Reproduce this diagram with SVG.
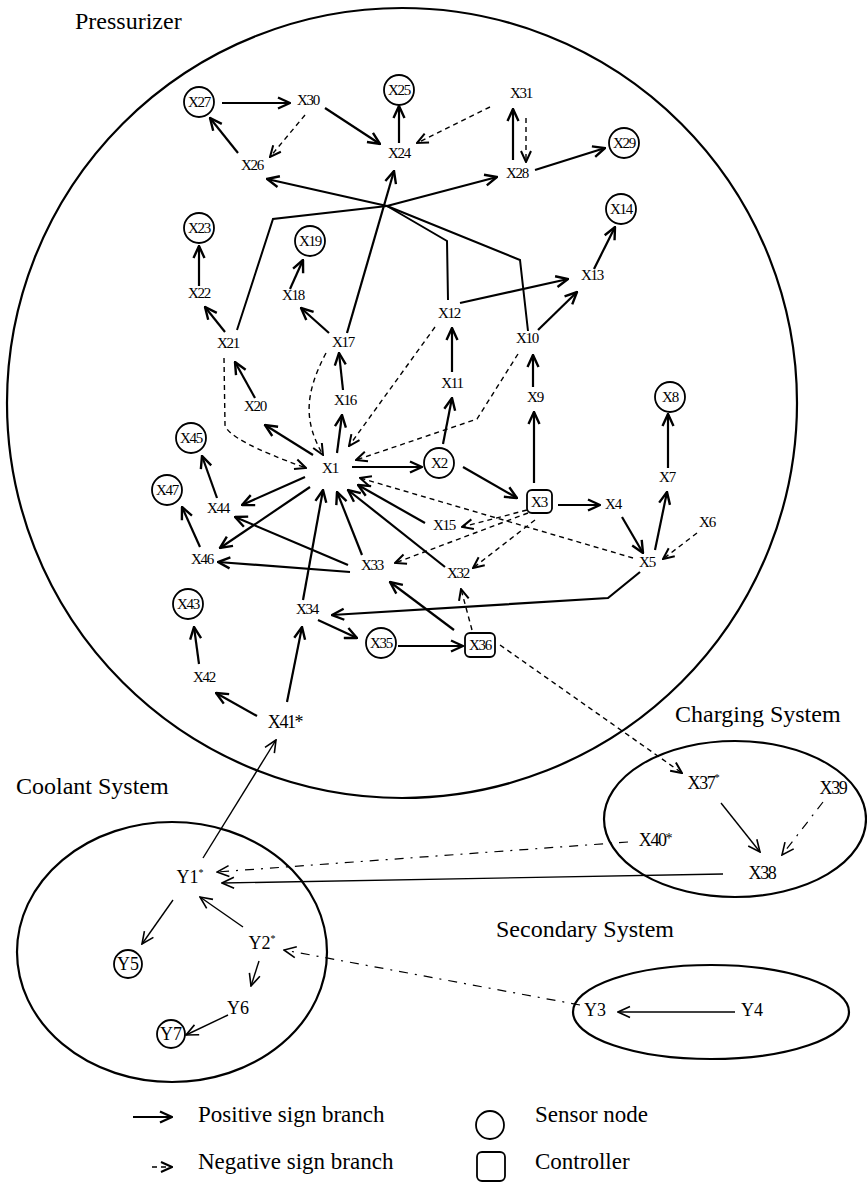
<svg xmlns="http://www.w3.org/2000/svg" width="867" height="1185" viewBox="0 0 867 1185">
<style>
  .bg { fill: #fff; }
  .region { fill: none; stroke: #000; stroke-width: 2.2; }
  .title { font-family: "Liberation Serif", "Times New Roman", serif; font-size: 24px; fill: #000; }
  .n { font-family: "Liberation Serif", "Times New Roman", serif; font-size: 15px; letter-spacing: -1.2px; text-anchor: middle; fill: #000; }
  .nb { font-family: "Liberation Serif", "Times New Roman", serif; font-size: 18px; letter-spacing: -1.4px; text-anchor: middle; fill: #000; }
  .y { font-family: "Liberation Serif", "Times New Roman", serif; font-size: 18px; text-anchor: middle; fill: #000; }
  .ring { fill: none; stroke: #000; stroke-width: 1.8; }
  .pos { fill: none; stroke: #000; stroke-width: 2.2; marker-end: url(#ah); }
  .neg { fill: none; stroke: #000; stroke-width: 1.4; stroke-dasharray: 5 4; marker-end: url(#ahd); }
  .thin { fill: none; stroke: #000; stroke-width: 1.4; marker-end: url(#aht); }
  .thinneg { fill: none; stroke: #000; stroke-width: 1.2; stroke-dasharray: 9 7 2 7; marker-end: url(#aht); }
  .bus { fill: none; stroke: #000; stroke-width: 2; }
  .legend { font-family: "Liberation Serif", "Times New Roman", serif; font-size: 23px; fill: #000; }
</style>
<defs>
  <marker id="ah" viewBox="0 0 14 14" refX="13" refY="7" markerWidth="14" markerHeight="14" markerUnits="userSpaceOnUse" orient="auto">
    <path d="M1,1.5 L13,7 L1,12.5" fill="none" stroke="#000" stroke-width="2.4"/>
  </marker>
  <marker id="ahd" viewBox="0 0 14 14" refX="13" refY="7" markerWidth="14" markerHeight="14" markerUnits="userSpaceOnUse" orient="auto">
    <path d="M2,2 L13,7 L2,12" fill="none" stroke="#000" stroke-width="2"/>
  </marker>
  <marker id="aht" viewBox="0 0 14 14" refX="13" refY="7" markerWidth="14" markerHeight="14" markerUnits="userSpaceOnUse" orient="auto">
    <path d="M1,1.5 L13,7 L1,12.5" fill="none" stroke="#000" stroke-width="1.6"/>
  </marker>
</defs>
<rect class="bg" x="0" y="0" width="867" height="1185"/>

<!-- subsystem boundaries -->
<g id="regions">
  <circle class="region" cx="402" cy="403" r="395"/>
  <ellipse class="region" cx="172" cy="952" rx="155" ry="130"/>
  <ellipse class="region" cx="735" cy="819" rx="131" ry="78"/>
  <ellipse class="region" cx="711" cy="1012" rx="138" ry="47"/>
  <text class="title" x="75" y="29">Pressurizer</text>
  <text class="title" x="16" y="794">Coolant System</text>
  <text class="title" x="675" y="722">Charging System</text>
  <text class="title" x="496" y="937">Secondary System</text>
</g>

<!-- signed branches -->
<g id="connectors">
  <!-- positive branches -->
  <line class="pos" x1="222" y1="103" x2="290" y2="103"/>
  <line class="pos" x1="325" y1="108" x2="380" y2="144"/>
  <line class="pos" x1="399" y1="143" x2="399" y2="106"/>
  <line class="pos" x1="238" y1="153" x2="210" y2="118"/>
  <line class="pos" x1="513" y1="160" x2="513" y2="109"/>
  <line class="pos" x1="535" y1="170" x2="605" y2="148"/>
  <polyline class="bus" points="237,330 273,219 387,206"/>
  <polyline class="bus" points="448,300 447,241 387,206"/>
  <polyline class="bus" points="528,331 520,260 387,206"/>
  <line class="pos" x1="387" y1="206" x2="267" y2="179"/>
  <line class="pos" x1="387" y1="206" x2="497" y2="177"/>
  <line class="pos" x1="347" y1="333" x2="394" y2="171"/>
  <line class="pos" x1="329" y1="333" x2="301" y2="308"/>
  <line class="pos" x1="290" y1="289" x2="303" y2="260"/>
  <line class="pos" x1="225" y1="332" x2="205" y2="307"/>
  <line class="pos" x1="199" y1="286" x2="199" y2="246"/>
  <line class="pos" x1="343" y1="390" x2="339" y2="353"/>
  <line class="pos" x1="255" y1="398" x2="235" y2="362"/>
  <line class="pos" x1="452" y1="372" x2="452" y2="328"/>
  <line class="pos" x1="460" y1="303" x2="568" y2="279"/>
  <line class="pos" x1="538" y1="330" x2="577" y2="292"/>
  <line class="pos" x1="594" y1="269" x2="615" y2="227"/>
  <line class="pos" x1="533" y1="387" x2="533" y2="355"/>
  <line class="pos" x1="534" y1="483" x2="534" y2="412"/>
  <line class="pos" x1="313" y1="455" x2="265" y2="425"/>
  <line class="pos" x1="337" y1="453" x2="342" y2="415"/>
  <line class="pos" x1="352" y1="467" x2="422" y2="467"/>
  <line class="pos" x1="443" y1="444" x2="452" y2="398"/>
  <line class="pos" x1="463" y1="467" x2="517" y2="498"/>
  <line class="pos" x1="558" y1="505" x2="600" y2="505"/>
  <line class="pos" x1="622" y1="517" x2="643" y2="553"/>
  <line class="pos" x1="655" y1="550" x2="667" y2="492"/>
  <line class="pos" x1="668" y1="468" x2="668" y2="414"/>
  <line class="pos" x1="305" y1="477" x2="242" y2="505"/>
  <line class="pos" x1="310" y1="487" x2="220" y2="548"/>
  <line class="pos" x1="217" y1="498" x2="202" y2="456"/>
  <line class="pos" x1="200" y1="547" x2="182" y2="507"/>
  <line class="pos" x1="350" y1="572" x2="218" y2="562"/>
  <line class="pos" x1="348" y1="565" x2="235" y2="517"/>
  <line class="pos" x1="362" y1="555" x2="337" y2="492"/>
  <line class="pos" x1="425" y1="523" x2="358" y2="485"/>
  <line class="pos" x1="445" y1="567" x2="348" y2="490"/>
  <line class="pos" x1="303" y1="600" x2="323" y2="490"/>
  <polyline class="pos" points="640,572 608,598 332,615"/>
  <line class="pos" x1="318" y1="620" x2="357" y2="638"/>
  <line class="pos" x1="398" y1="646" x2="463" y2="646"/>
  <line class="pos" x1="454" y1="630" x2="390" y2="582"/>
  <line class="pos" x1="287" y1="702" x2="302" y2="627"/>
  <line class="pos" x1="257" y1="716" x2="216" y2="693"/>
  <line class="pos" x1="199" y1="664" x2="194" y2="627"/>
  <line class="thin" x1="203" y1="858" x2="276" y2="740"/>
  <line class="thin" x1="723" y1="874" x2="222" y2="883"/>
  <line class="thin" x1="721" y1="803" x2="760" y2="852"/>
  <line class="thin" x1="173" y1="900" x2="142" y2="944"/>
  <line class="thin" x1="243" y1="927" x2="200" y2="897"/>
  <line class="thin" x1="259" y1="961" x2="251" y2="986"/>
  <line class="thin" x1="228" y1="1015" x2="186" y2="1035"/>
  <line class="thin" x1="735" y1="1012" x2="618" y2="1012"/>

  <!-- negative branches -->
  <line class="neg" x1="305" y1="115" x2="270" y2="157"/>
  <line class="neg" x1="490" y1="107" x2="417" y2="143"/>
  <line class="neg" x1="526" y1="118" x2="526" y2="162"/>
  <path class="neg" d="M224,358 L225,425 Q228,440 306,468"/>
  <path class="neg" d="M326,353 C304,395 304,422 323,455"/>
  <line class="neg" x1="435" y1="327" x2="349" y2="446"/>
  <polyline class="neg" points="518,354 477,419 356,460"/>
  <line class="neg" x1="527" y1="510" x2="462" y2="527"/>
  <line class="neg" x1="535" y1="520" x2="473" y2="568"/>
  <line class="neg" x1="528" y1="513" x2="395" y2="563"/>
  <line class="neg" x1="633" y1="558" x2="360" y2="478"/>
  <line class="neg" x1="697" y1="533" x2="663" y2="559"/>
  <line class="neg" x1="472" y1="630" x2="461" y2="589"/>
  <line class="neg" x1="500" y1="645" x2="682" y2="773"/>
  <line class="thinneg" x1="628" y1="842" x2="217" y2="872"/>
  <line class="thinneg" x1="823" y1="802" x2="782" y2="855"/>
  <line class="thinneg" x1="580" y1="1005" x2="284" y2="950"/>
</g>

<!-- pressurizer nodes -->
<g id="X1"><text class="n" x="330" y="473">X1</text></g>
<g id="X2"><circle class="ring" cx="439" cy="463" r="15"/><text class="n" x="439" y="468">X2</text></g>
<g id="X3"><rect class="ring" x="527" y="490" width="25" height="23" rx="5"/><text class="n" x="539" y="507">X3</text></g>
<g id="X4"><text class="n" x="613" y="509">X4</text></g>
<g id="X5"><text class="n" x="647" y="567">X5</text></g>
<g id="X6"><text class="n" x="707" y="527">X6</text></g>
<g id="X7"><text class="n" x="667" y="482">X7</text></g>
<g id="X8"><circle class="ring" cx="670" cy="397" r="15"/><text class="n" x="670" y="402">X8</text></g>
<g id="X9"><text class="n" x="535" y="402">X9</text></g>
<g id="X10"><text class="n" x="527" y="343">X10</text></g>
<g id="X11"><text class="n" x="452" y="388">X11</text></g>
<g id="X12"><text class="n" x="449" y="318">X12</text></g>
<g id="X13"><text class="n" x="592" y="280">X13</text></g>
<g id="X14"><circle class="ring" cx="621" cy="209" r="15"/><text class="n" x="621" y="214">X14</text></g>
<g id="X15"><text class="n" x="444" y="530">X15</text></g>
<g id="X16"><text class="n" x="345" y="405">X16</text></g>
<g id="X17"><text class="n" x="343" y="347">X17</text></g>
<g id="X18"><text class="n" x="293" y="300">X18</text></g>
<g id="X19"><circle class="ring" cx="310" cy="241" r="15"/><text class="n" x="310" y="246">X19</text></g>
<g id="X20"><text class="n" x="255" y="411">X20</text></g>
<g id="X21"><text class="n" x="228" y="348">X21</text></g>
<g id="X22"><text class="n" x="199" y="298">X22</text></g>
<g id="X23"><circle class="ring" cx="199" cy="228" r="15"/><text class="n" x="199" y="233">X23</text></g>
<g id="X24"><text class="n" x="399" y="158">X24</text></g>
<g id="X25"><circle class="ring" cx="399" cy="90" r="15"/><text class="n" x="399" y="95">X25</text></g>
<g id="X26"><text class="n" x="252" y="170">X26</text></g>
<g id="X27"><circle class="ring" cx="199" cy="102" r="15"/><text class="n" x="199" y="107">X27</text></g>
<g id="X28"><text class="n" x="517" y="178">X28</text></g>
<g id="X29"><circle class="ring" cx="624" cy="143" r="15"/><text class="n" x="624" y="148">X29</text></g>
<g id="X30"><text class="n" x="308" y="105">X30</text></g>
<g id="X31"><text class="n" x="521" y="98">X31</text></g>
<g id="X32"><text class="n" x="458" y="578">X32</text></g>
<g id="X33"><text class="n" x="372" y="570">X33</text></g>
<g id="X34"><text class="n" x="307" y="614">X34</text></g>
<g id="X35"><circle class="ring" cx="381" cy="643" r="15"/><text class="n" x="381" y="648">X35</text></g>
<g id="X36"><rect class="ring" x="465" y="633" width="30" height="24" rx="5"/><text class="n" x="480" y="650">X36</text></g>
<g id="X41"><text class="nb" x="285" y="728">X41*</text></g>
<g id="X42"><text class="n" x="204" y="682">X42</text></g>
<g id="X43"><circle class="ring" cx="188" cy="604" r="15"/><text class="n" x="188" y="609">X43</text></g>
<g id="X44"><text class="n" x="218" y="513">X44</text></g>
<g id="X45"><circle class="ring" cx="191" cy="438" r="15"/><text class="n" x="191" y="443">X45</text></g>
<g id="X46"><text class="n" x="202" y="564">X46</text></g>
<g id="X47"><circle class="ring" cx="167" cy="490" r="15"/><text class="n" x="167" y="495">X47</text></g>

<!-- charging system nodes -->
<g id="X37"><text class="nb" x="703" y="789">X37<tspan font-size="11" dy="-8">*</tspan></text></g>
<g id="X38"><text class="nb" x="762" y="879">X38</text></g>
<g id="X39"><text class="nb" x="833" y="794">X39</text></g>
<g id="X40"><text class="nb" x="655" y="846">X40<tspan font-size="14" dy="-3">*</tspan></text></g>

<!-- coolant and secondary nodes -->
<g id="Y1"><text class="y" x="190" y="883">Y1<tspan font-size="10" dy="-7">*</tspan></text></g>
<g id="Y2"><text class="y" x="262" y="949">Y2<tspan font-size="10" dy="-7">*</tspan></text></g>
<g id="Y3"><text class="y" x="595" y="1016">Y3</text></g>
<g id="Y4"><text class="y" x="752" y="1016">Y4</text></g>
<g id="Y5"><circle class="ring" cx="128" cy="964" r="14"/><text class="y" x="128" y="970">Y5</text></g>
<g id="Y6"><text class="y" x="238" y="1014">Y6</text></g>
<g id="Y7"><circle class="ring" cx="171" cy="1034" r="14"/><text class="y" x="171" y="1040">Y7</text></g>

<!-- key -->
<g id="legend">
  <line class="pos" x1="133" y1="1117" x2="172" y2="1117"/>
  <line class="neg" x1="152" y1="1167" x2="172" y2="1167"/>
  <text class="legend" x="198" y="1122">Positive sign branch</text>
  <text class="legend" x="198" y="1169">Negative sign branch</text>
  <circle class="ring" cx="490" cy="1125" r="14"/>
  <rect class="ring" x="477" y="1152" width="28" height="29" rx="5"/>
  <text class="legend" x="535" y="1122">Sensor node</text>
  <text class="legend" x="535" y="1169">Controller</text>
</g>
</svg>
